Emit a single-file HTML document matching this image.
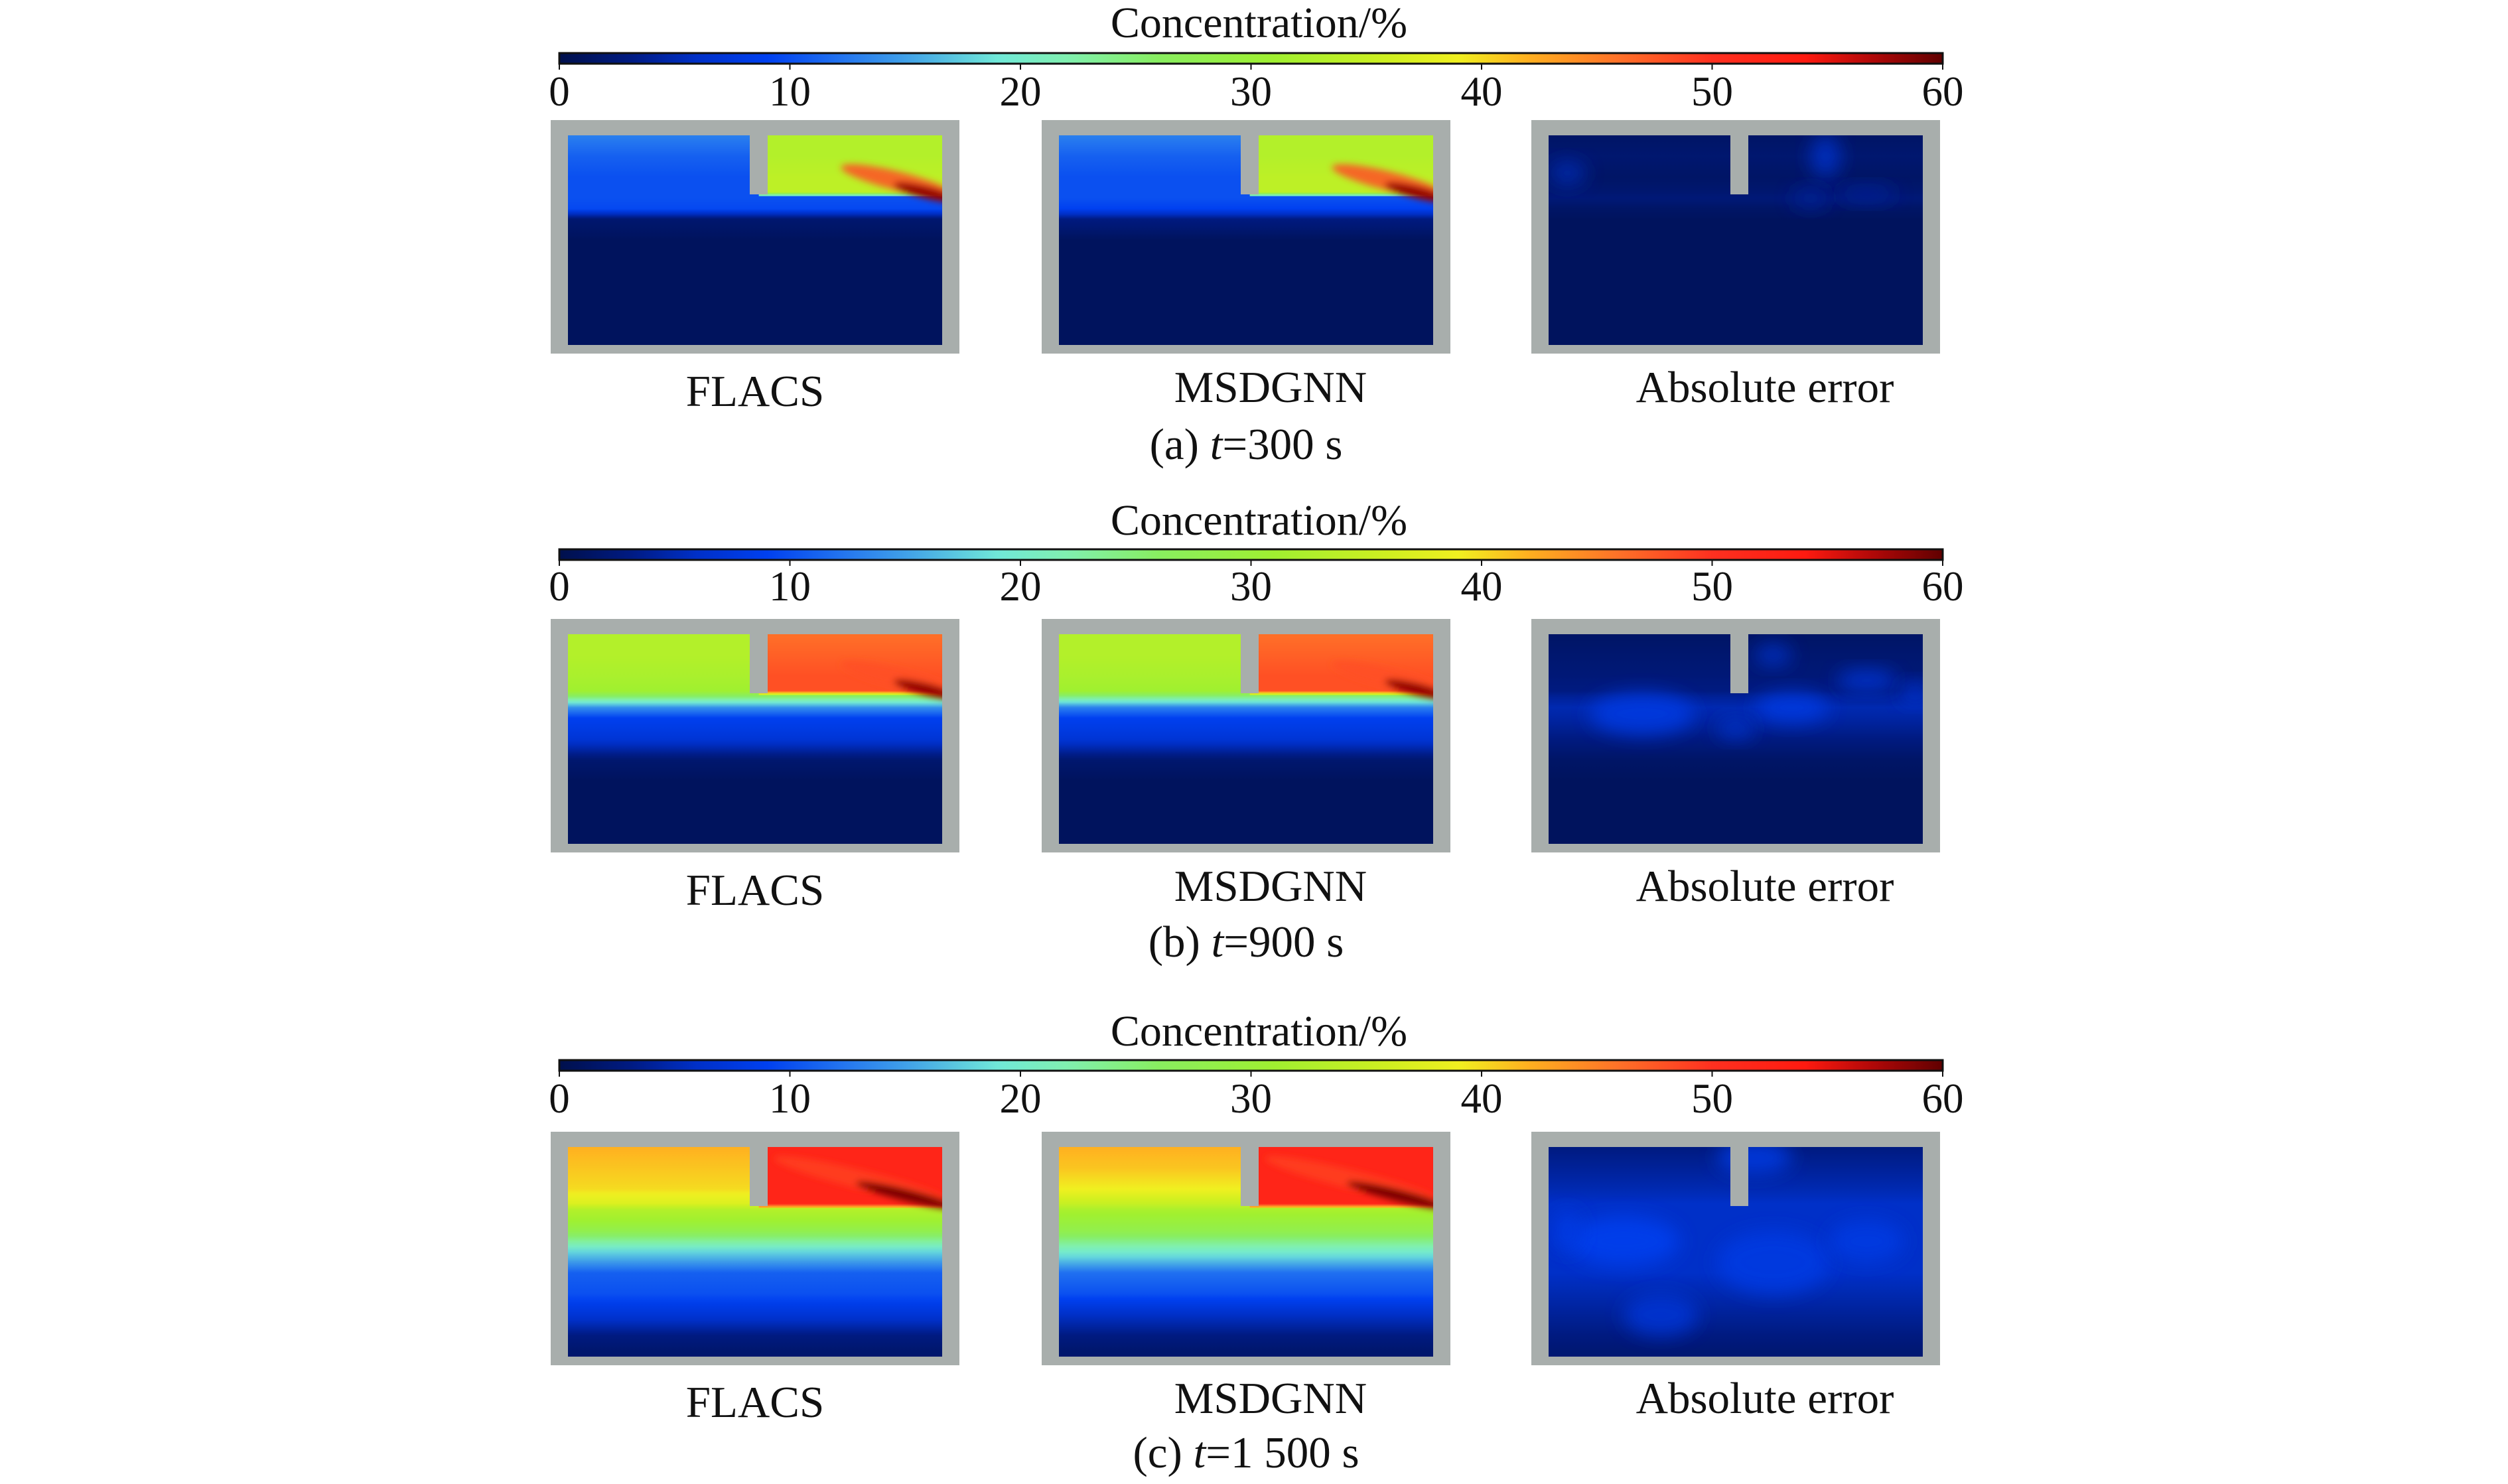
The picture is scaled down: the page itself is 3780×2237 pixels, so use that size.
<!DOCTYPE html>
<html><head><meta charset="utf-8"><style>
html,body{margin:0;padding:0;background:#fff;}
svg{display:block;}
text{font-family:"Liberation Serif","DejaVu Serif",serif;fill:#111;}
</style></head><body>
<svg id="fig" xmlns="http://www.w3.org/2000/svg" width="3780" height="2237" viewBox="0 0 3780 2237" font-family="Liberation Serif, DejaVu Serif, serif">
<defs>
<filter id="blur" x="-50%" y="-50%" width="200%" height="200%"><feGaussianBlur stdDeviation="14"/></filter>
<filter id="blurS" x="-50%" y="-50%" width="200%" height="200%"><feGaussianBlur stdDeviation="5"/></filter>
</defs>
</svg>
<script>
// ---- colorbar data ----
const tickValues = [0, 10, 20, 30, 40, 50, 60];
const tickLabels = ["0", "10", "20", "30", "40", "50", "60"];
const cmapValues = [0, 3, 6, 9, 12, 15, 19, 22, 26, 31, 36, 39, 42, 46, 50, 54, 57, 60];
const cmapColors = ["#00104c","#001a80","#0030c8","#0040f0","#2070f0","#40a0e8","#70e8d8","#80f0b0","#88ee60","#a0f030","#d0f020","#f0f020","#ffb020","#ff7028","#ff3020","#ff1a10","#b00808","#600000"];
const rowCaptions = ["300 s", "900 s", "1 500 s"];
const rowLetters = ["(a) ", "(b) ", "(c) "];
const panelLabels = ["FLACS", "MSDGNN", "Absolute error"];
// depth fractions (0 = top of domain, 1 = bottom)
const depthFrac = [0, 0.1, 0.2, 0.27, 0.3, 0.35, 0.4, 0.5, 0.6, 0.7, 0.8, 0.9, 1];
// row a (t=300 s)
const aFlacsLeft  = [13, 11, 10, 10, 10, 9.5, 2, 1, 1, 1, 1, 1, 1];
const aFlacsRight = [33, 33, 34, 34, 9, 6, 1, 1, 1, 1, 1, 1, 1];
const aNetLeft    = [13, 11, 10, 10, 10, 9, 3, 1, 1, 1, 1, 1, 1];
const aNetRight   = [33, 33, 34, 34, 9, 5, 1.5, 1, 1, 1, 1, 1, 1];
const aErr        = [1.5, 2, 1.5, 2, 2.5, 1.5, 1, 1, 1, 1, 1, 1, 1];
// row b (t=900 s)
const bFlacsLeft  = [33, 33, 32, 31, 25, 14, 9, 7, 2, 1, 1, 1, 1];
const bFlacsRight = [46, 47, 48, 48, 26, 14, 9, 7, 2, 1, 1, 1, 1];
const bNetLeft    = [33, 33, 32, 31, 24, 13, 9, 7, 2, 1, 1, 1, 1];
const bNetRight   = [46, 47, 48, 48, 25, 13, 9, 7, 2, 1, 1, 1, 1];
const bErr        = [1.5, 2, 2.5, 3, 4, 5, 4.5, 3, 1.5, 1, 1, 1, 1];
// row c (t=1 500 s)
const cFlacsLeft  = [42, 41, 40, 37, 33, 31, 28, 18, 11, 10, 7, 3, 1.5];
const cFlacsRight = [52, 52, 52, 52, 33, 31, 28, 18, 11, 10, 7, 3, 1.5];
const cNetLeft    = [42, 41, 39, 35, 32, 30, 28, 20, 12, 10, 6, 3, 1.5];
const cNetRight   = [52, 52, 52, 52, 32, 30, 28, 20, 12, 10, 6, 3, 1.5];
const cErr        = [3, 4, 5, 6, 6, 6, 6, 6, 6, 5, 4, 3, 2];
// plume hot spots: [x-frac, y-frac, length-frac, value]
const aPlume = [0.93, 0.25, 0.26, 58];
const bPlume = [0.93, 0.24, 0.26, 58];
const cPlume = [0.86, 0.2, 0.4, 59];
// error blobs: [x-frac, y-frac, rx-frac, ry-frac, value]
const aErrBlobs = [[0.05,0.18,0.05,0.06,5],[0.74,0.1,0.04,0.1,6],[0.7,0.3,0.05,0.05,4],[0.85,0.28,0.08,0.04,4]];
const bErrBlobs = [[0.25,0.38,0.14,0.1,8],[0.65,0.35,0.1,0.07,8],[0.85,0.22,0.08,0.05,7],[0.98,0.28,0.04,0.05,7],[0.5,0.45,0.05,0.05,6],[0.6,0.1,0.05,0.05,6]];
const cErrBlobs = [[0.2,0.45,0.15,0.12,9],[0.6,0.55,0.15,0.15,8],[0.55,0.05,0.1,0.08,8],[0.85,0.45,0.1,0.1,8],[0.3,0.8,0.1,0.1,7],[0.05,0.4,0.04,0.1,8]];

const svg = document.getElementById('fig');
const NS = 'http://www.w3.org/2000/svg';
const FONT = '"Liberation Serif", "DejaVu Serif", serif';
function mk(tag, attrs, parent){const e=document.createElementNS(NS,tag);for(const k in attrs)e.setAttribute(k,attrs[k]);(parent||svg).appendChild(e);return e;}
function hex(c){return [parseInt(c.substr(1,2),16),parseInt(c.substr(3,2),16),parseInt(c.substr(5,2),16)];}
function cmap(v){
  v=Math.max(0,Math.min(60,v));
  for(let i=0;i<cmapValues.length-1;i++){
    if(v<=cmapValues[i+1]){
      const t=(v-cmapValues[i])/(cmapValues[i+1]-cmapValues[i]);
      const a=hex(cmapColors[i]),b=hex(cmapColors[i+1]);
      return 'rgb('+a.map((x,j)=>Math.round(x+(b[j]-x)*t)).join(',')+')';
    }
  }
  return cmapColors[cmapColors.length-1];
}
const defs = svg.querySelector('defs');
let gid=0;
function profileGrad(vals, maxD){
  const id='g'+(gid++);
  const g=mk('linearGradient',{id:id,x1:0,y1:0,x2:0,y2:1},defs);
  for(let i=0;i<depthFrac.length-1;i++){
    for(let s=0;s<4;s++){
      const t=s/4;
      const d=depthFrac[i]+(depthFrac[i+1]-depthFrac[i])*t;
      const v=vals[i]+(vals[i+1]-vals[i])*t;
      if(d<=maxD) mk('stop',{offset:d/maxD,'stop-color':cmap(v)},g);
    }
  }
  return id;
}

const rows = [
  {cbTop:80, panelTop:181, labelY:606, capY:692, title:56, tickY:159},
  {cbTop:828, panelTop:933, labelY:1358, capY:1442, title:806, tickY:905},
  {cbTop:1598, panelTop:1706, labelY:2130, capY:2212, title:1576, tickY:1677}
];
const panelX = [830, 1570, 2308];
const PW=616, PH=352, IL=26, IT=23, IW=564, IH=316;
const cbX0=843, cbX1=2928, cbH=16;
const xScale = v => cbX0 + (v/60)*(cbX1-cbX0);
const labelDx=[0, 37, 44];
const RIGHT_DEPTH = 0.29;

const cg=mk('linearGradient',{id:'cbgrad',x1:0,y1:0,x2:1,y2:0},defs);
for(let v=0;v<=60;v+=1){mk('stop',{offset:v/60,'stop-color':cmap(v)},cg);}

const data = [
  [[aFlacsLeft,aFlacsRight,aPlume],[aNetLeft,aNetRight,aPlume],[aErr,aErrBlobs]],
  [[bFlacsLeft,bFlacsRight,bPlume],[bNetLeft,bNetRight,bPlume],[bErr,bErrBlobs]],
  [[cFlacsLeft,cFlacsRight,cPlume],[cNetLeft,cNetRight,cPlume],[cErr,cErrBlobs]]
];
const rowNames=['a','b','c'];

rows.forEach((r,ri)=>{
  const grp=mk('g',{});
  
  
  const t=mk('text',{x:(cbX0+cbX1)/2+12,y:r.title,'text-anchor':'middle','font-size':66,'font-family':FONT},grp);
  t.textContent='Concentration/%';
  
  
  const cb=mk('rect',{x:cbX0,y:r.cbTop,width:cbX1-cbX0,height:cbH,fill:'url(#cbgrad)',stroke:'#111','stroke-width':3},grp);
  
  
  tickValues.forEach((tv,ti)=>{
    const x=xScale(tv);
    const tk=mk('line',{x1:x,y1:r.cbTop+cbH,x2:x,y2:r.cbTop+cbH+9,stroke:'#111','stroke-width':2},grp);
    
    
    const tl=mk('text',{x:x,y:r.tickY,'text-anchor':'middle','font-size':63,'font-family':FONT},grp);
    tl.textContent=tickLabels[ti];
    
    
  });
  data[ri].forEach((pd,pi)=>{
    const px=panelX[pi], py=r.panelTop;
    const pg=mk('g',{},grp);
    
    
    mk('rect',{x:px,y:py,width:PW,height:PH,fill:'#a8aeac'},pg);
    const ix=px+IL, iy=py+IT;
    const cid='clip'+ri+pi;
    const cp=mk('clipPath',{id:cid},defs);
    mk('rect',{x:ix,y:iy,width:IW,height:IH},cp);
    const fg=mk('g',{'clip-path':'url(#'+cid+')'},pg);
    if(pi<2){
      const lg=profileGrad(pd[0],1), rg=profileGrad(pd[1],RIGHT_DEPTH);
      const l=mk('rect',{x:ix,y:iy,width:IW,height:IH,fill:'url(#'+lg+')'},fg);
      
      
      const rr=mk('rect',{x:ix+IW*0.51,y:iy,width:IW*0.49,height:IH*RIGHT_DEPTH,fill:'url(#'+rg+')'},fg);
      
      
      const pl=pd[2];
      const cx=ix+pl[0]*IW, cy=iy+pl[1]*IH, len=pl[2]*IW;
      const pgp=mk('g',{transform:'rotate(14 '+cx+' '+cy+')',filter:'url(#blurS)'},fg);
      mk('ellipse',{cx:cx-len*0.2,cy:cy-IH*0.01,rx:len*0.6,ry:IH*0.045,fill:cmap(pl[3]-10),opacity:0.85},pgp);
      const core=mk('ellipse',{cx:cx+len*0.12,cy:cy+IH*0.01,rx:len*0.35,ry:IH*0.028,fill:cmap(pl[3])},pgp);
      
      
    } else {
      const eg=profileGrad(pd[0],1);
      const er=mk('rect',{x:ix,y:iy,width:IW,height:IH,fill:'url(#'+eg+')'},fg);
      
      
      pd[1].forEach(b=>{
        const bl=mk('ellipse',{cx:ix+b[0]*IW,cy:iy+b[1]*IH,rx:b[2]*IW,ry:b[3]*IH,fill:cmap(b[4]),filter:'url(#blur)',opacity:0.85},fg);
        
        
      });
    }
    const bf=mk('rect',{x:ix+274,y:iy-2,width:27,height:91,fill:'#a8aeac'},pg);
    
    
    const lb=mk('text',{x:px+PW/2+labelDx[pi],y:r.labelY+(pi===0?6:0),'text-anchor':'middle','font-size':67,'font-family':FONT},grp);
    lb.textContent=panelLabels[pi];
    
    
  });
  const cap=mk('text',{x:1878,y:r.capY,'text-anchor':'middle','font-size':67,'font-family':FONT},grp);
  
  
  const s1=mk('tspan',{},cap);s1.textContent=rowLetters[ri];
  const s2=mk('tspan',{'font-style':'italic'},cap);s2.textContent='t';
  const s3=mk('tspan',{},cap);s3.textContent='='+rowCaptions[ri];
});
</script>
</body></html>
